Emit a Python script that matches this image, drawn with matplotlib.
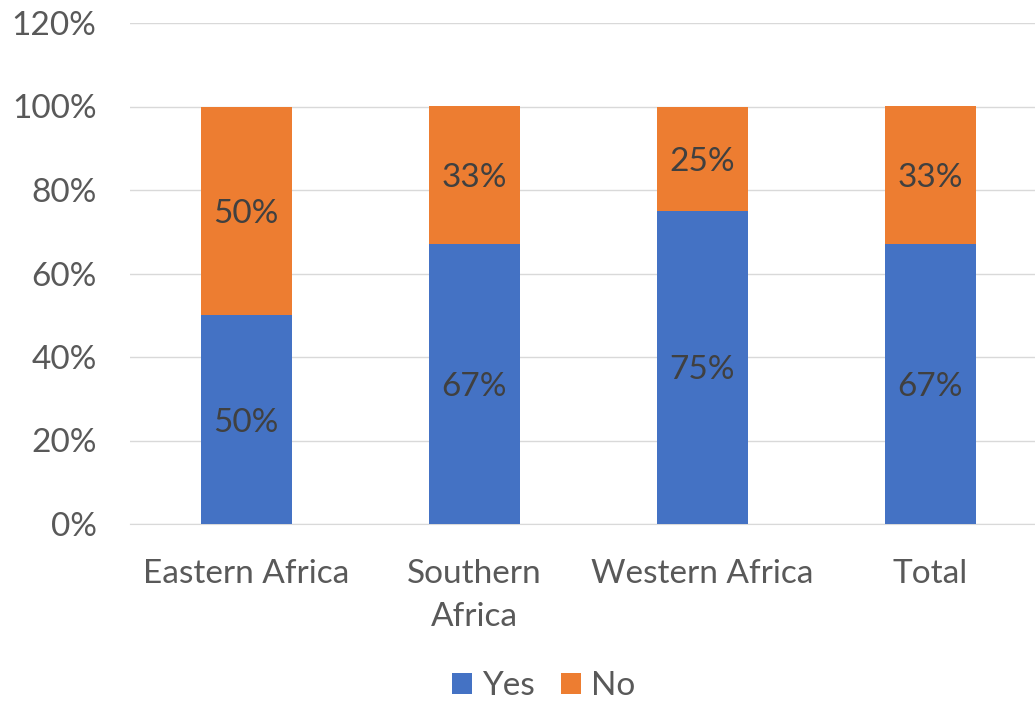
import numpy as np
import matplotlib.pyplot as plt
from matplotlib.ticker import FuncFormatter

plt.rcParams['font.family'] = ['Lato', 'DejaVu Sans']

categories = ["Eastern Africa", "Southern\nAfrica", "Western Africa", "Total"]
yes_vals = [50, 67, 75, 67]
no_vals = [50, 33, 25, 33]

col_yes = "#4472C4"
col_no = "#ED7D31"
txt = "#595959"

fig = plt.figure(figsize=(10.35, 7.02), dpi=100)
ax = fig.add_axes([130/1035, 1-524/702, 1-130/1035, (524-23)/702])

x = np.arange(len(categories))
w = 0.4
b1 = ax.bar(x, yes_vals, w, color=col_yes, label="Yes", zorder=3)
b2 = ax.bar(x, no_vals, w, bottom=yes_vals, color=col_no, label="No", zorder=3)

for i in range(len(x)):
    ax.text(x[i], yes_vals[i]/2, "%d%%" % yes_vals[i], ha="center", va="center_baseline",
            fontsize=24, color="#404040", zorder=4)
    ax.text(x[i], yes_vals[i] + no_vals[i]/2, "%d%%" % no_vals[i], ha="center",
            va="center_baseline", fontsize=24, color="#404040", zorder=4)

ax.set_ylim(0, 120)
ax.set_yticks(np.arange(0, 121, 20))
ax.yaxis.set_major_formatter(FuncFormatter(lambda v, p: "%d%%" % v))
ax.set_xlim(-0.51, 3.46)
ax.set_xticks(x)
ax.set_xticklabels(categories, linespacing=1.55)
ax.grid(axis="y", color="#D9D9D9", lw=1, zorder=0)
for s in ["top", "right", "left"]:
    ax.spines[s].set_visible(False)
ax.spines["bottom"].set_color("#D9D9D9")
ax.tick_params(axis="both", length=0, labelsize=24, colors=txt)
ax.tick_params(axis="x", pad=25)
ax.tick_params(axis="y", pad=24)

leg = fig.legend(handles=[b1, b2], loc="center", bbox_to_anchor=(0.525, 1-686/702), ncol=2,
                 frameon=False, fontsize=24, handlelength=0.6, handleheight=0.6,
                 handletextpad=0.3, columnspacing=0.8)
for t in leg.get_texts():
    t.set_color(txt)

fig.savefig("out.png", dpi=100)
